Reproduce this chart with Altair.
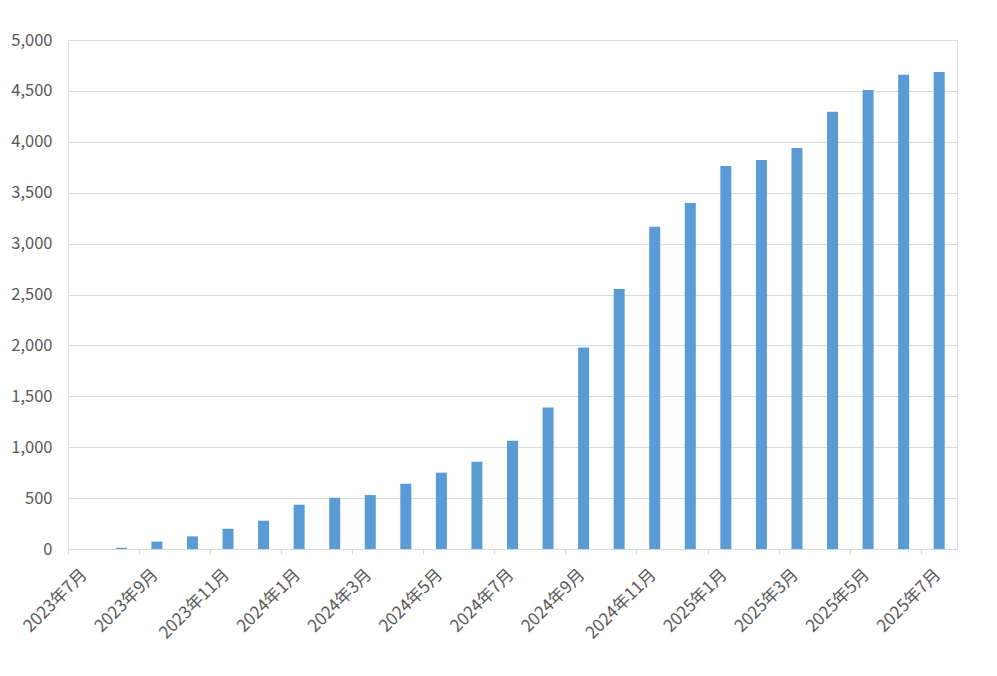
import altair as alt
import pandas as pd

months = [
    "2023年7月", "2023年8月", "2023年9月", "2023年10月", "2023年11月", "2023年12月",
    "2024年1月", "2024年2月", "2024年3月", "2024年4月", "2024年5月", "2024年6月",
    "2024年7月", "2024年8月", "2024年9月", "2024年10月", "2024年11月", "2024年12月",
    "2025年1月", "2025年2月", "2025年3月", "2025年4月", "2025年5月", "2025年6月",
    "2025年7月",
]
values = [
    0, 12, 73, 124, 199, 278,
    435, 504, 530, 641, 750, 858,
    1064, 1390, 1980, 2554, 3166, 3399,
    3762, 3821, 3939, 4296, 4509, 4659,
    4686,
]
label_months = months[::2]
y_ticks = list(range(0, 5001, 500))

df = pd.DataFrame({"month": months, "value": values})

chart = (
    alt.Chart(df)
    .mark_bar(size=11, color="#5b9bd5")
    .encode(
        x=alt.X(
            "month:N",
            sort=months,
            title=None,
            scale=alt.Scale(paddingInner=0, paddingOuter=0),
            axis=alt.Axis(
                values=label_months,
                bandPosition=0,
                labelOffset=-7,
                labelAngle=-45,
                labelAlign="right",
                labelBaseline="top",
                labelFont="Noto Sans CJK JP",
                labelFontSize=17,
                labelColor="#595959",
                labelPadding=12,
                labelOverlap=False,
                domainColor="#d9d9d9",
                domainWidth=1,
                tickColor="#d9d9d9",
                tickSize=5,
                grid=False,
            ),
        ),
        y=alt.Y(
            "value:Q",
            title=None,
            scale=alt.Scale(domain=[0, 5000], nice=False),
            axis=alt.Axis(
                values=y_ticks,
                format=",.0f",
                labelFont="Noto Sans CJK JP",
                labelFontSize=16.5,
                labelColor="#595959",
                labelPadding=16,
                ticks=False,
                tickSize=0,
                domain=False,
                gridColor="#d9d9d9",
                gridWidth=1,
            ),
        ),
    )
    .properties(
        width=889,
        height=509,
        autosize="none",
        padding={"left": 60, "top": 32, "right": 32, "bottom": 119},
    )
    .configure_view(stroke=None)
    .configure(background="white")
)

chart.save("out.html", embed_options={"renderer": "svg", "actions": False})
